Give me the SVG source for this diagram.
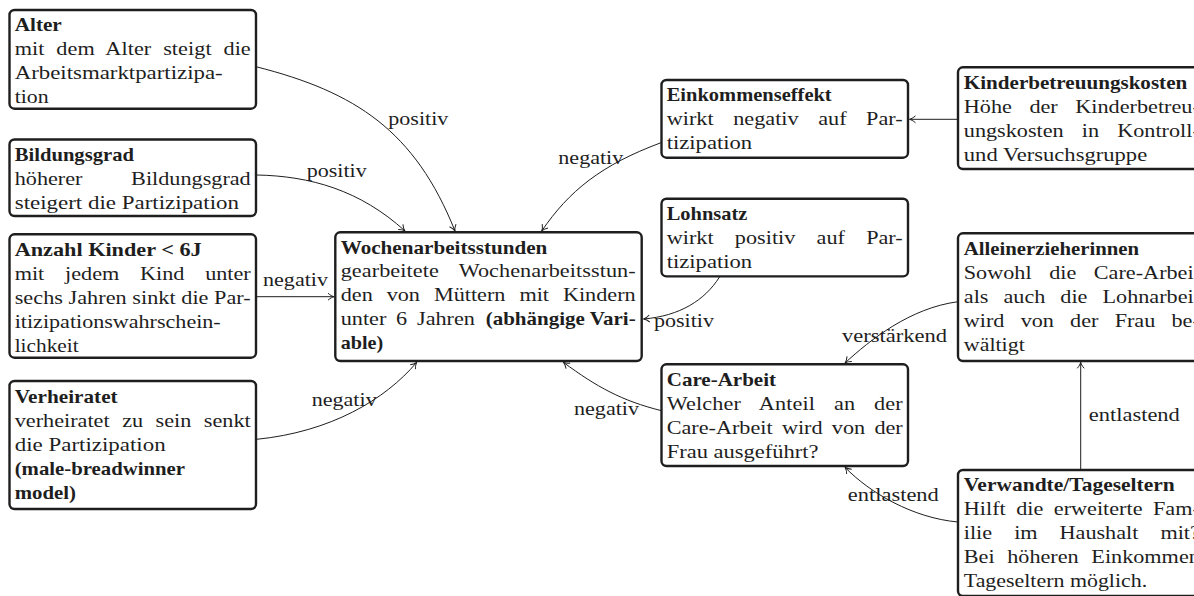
<svg xmlns="http://www.w3.org/2000/svg" width="1194" height="596" viewBox="0 0 1194 596">
<style>
.box{fill:#fff;stroke:#1e1e1e;stroke-width:2.4}
.t{font-family:'Liberation Serif','DejaVu Serif','Times New Roman',serif;font-size:18.5px;fill:#1e1e1e}
.b{font-weight:bold}
.edge{fill:none;stroke:#1e1e1e;stroke-width:1}
</style>
<defs>
<marker id="arr" viewBox="-8 -5 10 10" refX="0" refY="0" markerWidth="10" markerHeight="10" markerUnits="userSpaceOnUse" orient="auto">
<path d="M-6,-3.5 C-4,-1.5 -1.2,-0.3 0,0 C-1.2,0.3 -4,1.5 -6,3.5" fill="none" stroke="#1e1e1e" stroke-width="1"/>
</marker>
</defs>

<g id="alter">
<rect class="box" x="9.5" y="10" width="246.5" height="98.7" rx="5"/>
<g transform="translate(14.7 0) scale(1.2 1)">
<text class="t b" y="31.5" textLength="39.2" lengthAdjust="spacingAndGlyphs">Alter</text>
<text class="t" y="55.5" style="word-spacing:5.2px" textLength="196.7" lengthAdjust="spacing">mit dem Alter steigt die</text>
<text class="t" y="79.5" textLength="173.3" lengthAdjust="spacingAndGlyphs">Arbeitsmarktpartizipa-</text>
<text class="t" y="103.5" textLength="28.3" lengthAdjust="spacingAndGlyphs">tion</text>
</g>
</g>

<g id="bildungsgrad">
<rect class="box" x="9.5" y="139.5" width="246.5" height="76.5" rx="5"/>
<g transform="translate(14.7 0) scale(1.2 1)">
<text class="t b" y="161" textLength="99.4" lengthAdjust="spacingAndGlyphs">Bildungsgrad</text>
<text class="t" y="185" style="word-spacing:35.9px" textLength="196.7" lengthAdjust="spacing">höherer Bildungsgrad</text>
<text class="t" y="209" textLength="186.9" lengthAdjust="spacingAndGlyphs">steigert die Partizipation</text>
</g>
</g>

<g id="anzahl">
<rect class="box" x="9.5" y="234.3" width="246.5" height="123.4" rx="5"/>
<g transform="translate(14.7 0) scale(1.2 1)">
<text class="t b" y="256.3" textLength="155.8" lengthAdjust="spacingAndGlyphs">Anzahl Kinder &lt; 6J</text>
<text class="t" y="280.3" style="word-spacing:12.7px" textLength="196.7" lengthAdjust="spacing">mit jedem Kind unter</text>
<text class="t" y="304.3" textLength="196.7" lengthAdjust="spacing">sechs Jahren sinkt die Par-</text>
<text class="t" y="328.3" textLength="171.7" lengthAdjust="spacingAndGlyphs">itizipationswahrschein-</text>
<text class="t" y="352.3" textLength="53.3" lengthAdjust="spacingAndGlyphs">lichkeit</text>
</g>
</g>

<g id="verheiratet">
<rect class="box" x="9.5" y="381" width="246.5" height="128" rx="5"/>
<g transform="translate(14.7 0) scale(1.2 1)">
<text class="t b" y="402.7" textLength="85.8" lengthAdjust="spacingAndGlyphs">Verheiratet</text>
<text class="t" y="426.8" style="word-spacing:5.8px" textLength="196.7" lengthAdjust="spacing">verheiratet zu sein senkt</text>
<text class="t" y="450.9" textLength="125.8" lengthAdjust="spacingAndGlyphs">die Partizipation</text>
<text class="t b" y="475" textLength="141.9" lengthAdjust="spacingAndGlyphs">(male-breadwinner</text>
<text class="t b" y="499.1" textLength="51.1" lengthAdjust="spacingAndGlyphs">model)</text>
</g>
</g>

<g id="wochenarbeitsstunden">
<rect class="box" x="335.3" y="232.3" width="306.4" height="128.7" rx="5"/>
<g transform="translate(340.7 0) scale(1.2 1)">
<text class="t b" y="253.6" textLength="172.2" lengthAdjust="spacingAndGlyphs">Wochenarbeitsstunden</text>
<text class="t" y="277.4" style="word-spacing:12.1px" textLength="245.8" lengthAdjust="spacing">gearbeitete Wochenarbeitsstun-</text>
<text class="t" y="301.2" style="word-spacing:7px" textLength="245.8" lengthAdjust="spacing">den von Müttern mit Kindern</text>
<text class="t" y="325" style="word-spacing:3.5px" textLength="111.9" lengthAdjust="spacing">unter 6 Jahren</text>
<text class="t b" x="120.8" y="325" textLength="125" lengthAdjust="spacingAndGlyphs">(abhängige Vari-</text>
<text class="t b" y="348.8" textLength="35.5" lengthAdjust="spacingAndGlyphs">able)</text>
</g>
</g>

<g id="einkommenseffekt">
<rect class="box" x="661.5" y="80" width="246.5" height="77.7" rx="5"/>
<g transform="translate(666.7 0) scale(1.2 1)">
<text class="t b" y="101.5" textLength="137.5" lengthAdjust="spacingAndGlyphs">Einkommenseffekt</text>
<text class="t" y="125.5" style="word-spacing:11.6px" textLength="196.7" lengthAdjust="spacing">wirkt negativ auf Par-</text>
<text class="t" y="149.5" textLength="71.25" lengthAdjust="spacingAndGlyphs">tizipation</text>
</g>
</g>

<g id="lohnsatz">
<rect class="box" x="661.5" y="198.7" width="246.5" height="77.7" rx="5"/>
<g transform="translate(666.7 0) scale(1.2 1)">
<text class="t b" y="220.2" textLength="67.2" lengthAdjust="spacingAndGlyphs">Lohnsatz</text>
<text class="t" y="244.2" style="word-spacing:13px" textLength="196.7" lengthAdjust="spacing">wirkt positiv auf Par-</text>
<text class="t" y="268.2" textLength="71.25" lengthAdjust="spacingAndGlyphs">tizipation</text>
</g>
</g>

<g id="care-arbeit">
<rect class="box" x="661.5" y="364.3" width="246.5" height="101.7" rx="5"/>
<g transform="translate(666.7 0) scale(1.2 1)">
<text class="t b" y="385.8" textLength="91.1" lengthAdjust="spacingAndGlyphs">Care-Arbeit</text>
<text class="t" y="409.8" style="word-spacing:11px" textLength="196.7" lengthAdjust="spacing">Welcher Anteil an der</text>
<text class="t" y="433.8" style="word-spacing:3.1px" textLength="196.7" lengthAdjust="spacing">Care-Arbeit wird von der</text>
<text class="t" y="457.8" textLength="126.4" lengthAdjust="spacingAndGlyphs">Frau ausgeführt?</text>
</g>
</g>

<g id="kinderbetreuungskosten">
<rect class="box" x="958" y="67.3" width="246.5" height="101.7" rx="5"/>
<g transform="translate(963.8 0) scale(1.2 1)">
<text class="t b" y="88.8" textLength="186.2" lengthAdjust="spacingAndGlyphs">Kinderbetreuungskosten</text>
<text class="t" y="112.8" style="word-spacing:10px" textLength="196.7" lengthAdjust="spacing">Höhe der Kinderbetreu-</text>
<text class="t" y="136.8" style="word-spacing:10.5px" textLength="196.7" lengthAdjust="spacing">ungskosten in Kontroll-</text>
<text class="t" y="160.8" textLength="152.8" lengthAdjust="spacingAndGlyphs">und Versuchsgruppe</text>
</g>
</g>

<g id="alleinerzieherinnen">
<rect class="box" x="958" y="233.3" width="246.5" height="127.7" rx="5"/>
<g transform="translate(963.8 0) scale(1.2 1)">
<text class="t b" y="254.8" textLength="146.1" lengthAdjust="spacingAndGlyphs">Alleinerzieherinnen</text>
<text class="t" y="278.8" style="word-spacing:10px" textLength="196.7" lengthAdjust="spacing">Sowohl die Care-Arbeit</text>
<text class="t" y="302.8" style="word-spacing:7.9px" textLength="196.7" lengthAdjust="spacing">als auch die Lohnarbeit</text>
<text class="t" y="326.8" style="word-spacing:8.9px" textLength="196.7" lengthAdjust="spacing">wird von der Frau be-</text>
<text class="t" y="350.8" textLength="50.8" lengthAdjust="spacingAndGlyphs">wältigt</text>
</g>
</g>

<g id="verwandte">
<rect class="box" x="958" y="470" width="246.5" height="126" rx="5"/>
<g transform="translate(963.8 0) scale(1.2 1)">
<text class="t b" y="491.3" textLength="175.8" lengthAdjust="spacingAndGlyphs">Verwandte/Tageseltern</text>
<text class="t" y="515.3" style="word-spacing:4.1px" textLength="196.7" lengthAdjust="spacing">Hilft die erweiterte Fam-</text>
<text class="t" y="539.3" style="word-spacing:13.7px" textLength="196.7" lengthAdjust="spacing">ilie im Haushalt mit?</text>
<text class="t" y="563.3" style="word-spacing:5.9px" textLength="196.7" lengthAdjust="spacing">Bei höheren Einkommen</text>
<text class="t" y="587.3" textLength="152.8" lengthAdjust="spacingAndGlyphs">Tageseltern möglich.</text>
</g>
</g>

<g id="connectors">
<path class="edge" marker-end="url(#arr)" d="M256,66.7 C356,92 415,131 455,231"/>
<path class="edge" marker-end="url(#arr)" d="M256.7,175 C310,176 360,190 405,231"/>
<path class="edge" marker-end="url(#arr)" d="M256,296.7 L334,296.7"/>
<path class="edge" marker-end="url(#arr)" d="M256.7,439.3 C330,432 385,400 416.7,362.3"/>
<path class="edge" marker-end="url(#arr)" d="M661,142.7 C601,165 569,191 541.7,231"/>
<path class="edge" marker-end="url(#arr)" d="M719.5,277 C705,300 680,316 643.5,319"/>
<path class="edge" marker-end="url(#arr)" d="M958,119.3 L909.5,119.3"/>
<path class="edge" marker-end="url(#arr)" d="M958,301.7 C910,308 870,340 845,363"/>
<path class="edge" marker-end="url(#arr)" d="M661.5,410.7 C621.5,400.7 597,387 563.3,362.3"/>
<path class="edge" marker-end="url(#arr)" d="M1080.7,470 L1080.7,362.3"/>
<path class="edge" marker-end="url(#arr)" d="M958,522 C913,518 870,493 845,467.3"/>
<text class="t" x="388.3" y="125" textLength="60" lengthAdjust="spacingAndGlyphs">positiv</text>
<text class="t" x="306.7" y="176.7" textLength="60" lengthAdjust="spacingAndGlyphs">positiv</text>
<text class="t" x="263" y="286" textLength="65" lengthAdjust="spacingAndGlyphs">negativ</text>
<text class="t" x="311.7" y="406" textLength="65" lengthAdjust="spacingAndGlyphs">negativ</text>
<text class="t" x="558.3" y="164" textLength="65" lengthAdjust="spacingAndGlyphs">negativ</text>
<text class="t" x="654" y="327.3" textLength="60" lengthAdjust="spacingAndGlyphs">positiv</text>
<text class="t" x="842" y="341.7" textLength="105" lengthAdjust="spacingAndGlyphs">verstärkend</text>
<text class="t" x="574" y="415" textLength="65" lengthAdjust="spacingAndGlyphs">negativ</text>
<text class="t" x="1088.8" y="421" textLength="91" lengthAdjust="spacingAndGlyphs">entlastend</text>
<text class="t" x="847.8" y="500.5" textLength="91" lengthAdjust="spacingAndGlyphs">entlastend</text>
</g>
</svg>
